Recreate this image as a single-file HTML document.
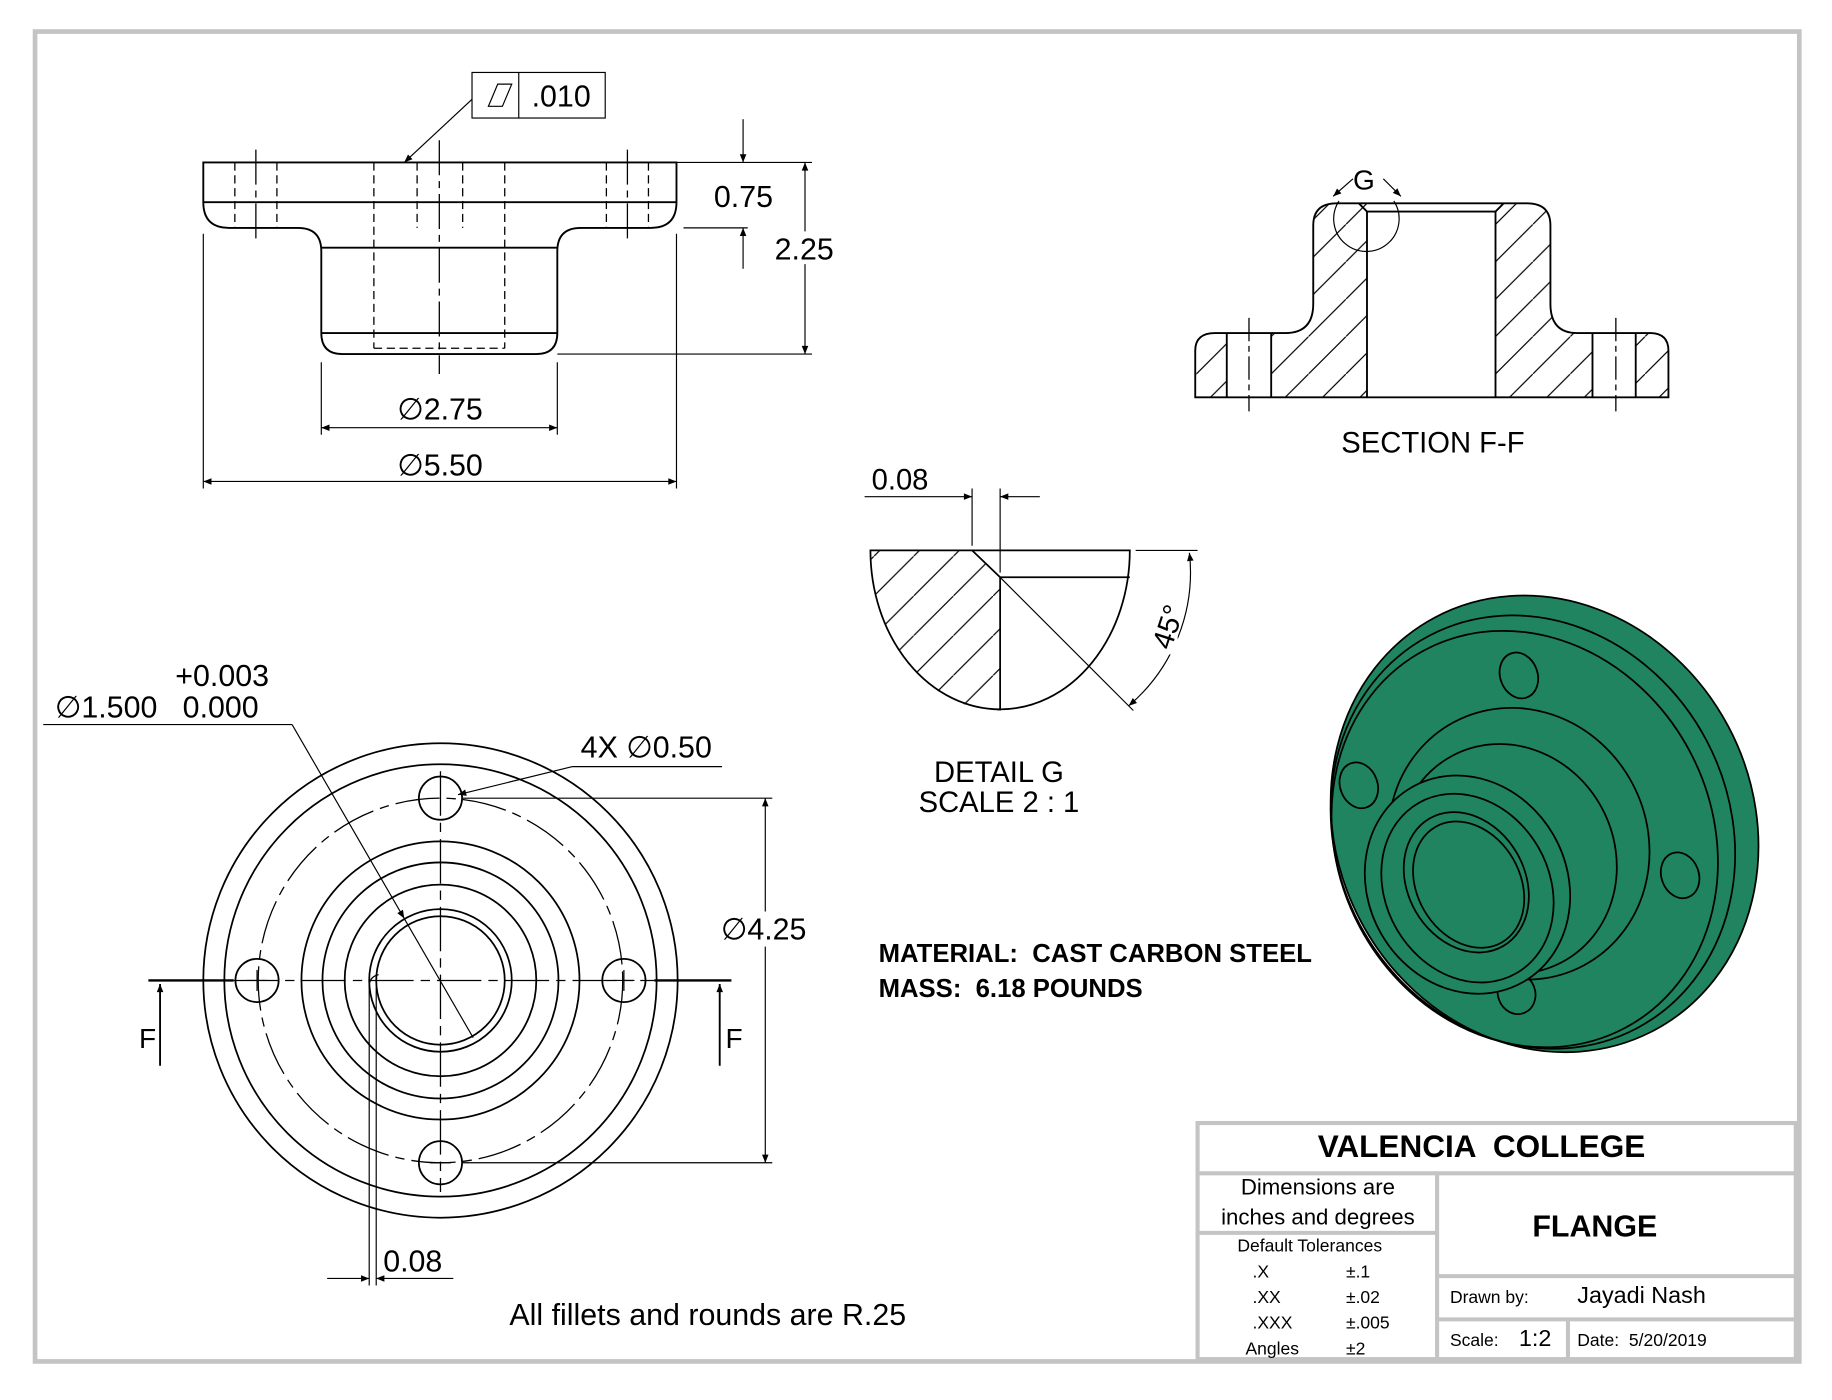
<!DOCTYPE html>
<html><head><meta charset="utf-8"><style>
html,body{margin:0;padding:0;background:#fff;}
svg{display:block;}
text{font-family:"Liberation Sans",sans-serif;fill:#000;white-space:pre;}
</style></head><body>
<svg width="1832" height="1400" viewBox="0 0 1568 1198" preserveAspectRatio="none" xmlns="http://www.w3.org/2000/svg" xml:space="preserve">
<defs>
<pattern id="h" patternUnits="userSpaceOnUse" width="32" height="32">
<line x1="-2" y1="34" x2="34" y2="-2" stroke="#000" stroke-width="1"/>
</pattern>
<pattern id="h2" patternUnits="userSpaceOnUse" width="34" height="34">
<line x1="-2" y1="36" x2="36" y2="-2" stroke="#000" stroke-width="1"/>
</pattern>
<marker id="a" viewBox="0 0 10 10" refX="10" refY="5" markerWidth="18" markerHeight="7" markerUnits="userSpaceOnUse" orient="auto-start-reverse"><path d="M0,1 L10,5 L0,9z" fill="#000"/></marker>
</defs>
<rect x="0" y="0" width="1568" height="1198" fill="#fff"/>
<rect x="30" y="27" width="1510" height="1138" fill="none" stroke="#c4c4c4" stroke-width="4"/>

<!-- TOP VIEW -->
<g fill="none" stroke="#000" stroke-width="1.6">
<path d="M174,139 H579 V173 Q579,195 557,195 H497 Q477,195 477,215 V285 Q477,303 459,303 H293 Q275,303 275,285 V215 Q275,195 255,195 H196 Q174,195 174,173 Z"/>
<line x1="174" y1="173" x2="579" y2="173"/>
<line x1="275" y1="212" x2="477" y2="212"/>
<line x1="275" y1="285" x2="477" y2="285"/>
</g>
<g stroke="#000" stroke-width="1.1" stroke-dasharray="7,4" fill="none">
<line x1="201" y1="139" x2="201" y2="195"/><line x1="237" y1="139" x2="237" y2="195"/>
<line x1="519" y1="139" x2="519" y2="195"/><line x1="555" y1="139" x2="555" y2="195"/>
<line x1="357" y1="139" x2="357" y2="195"/><line x1="396" y1="139" x2="396" y2="195"/>
<line x1="320" y1="139" x2="320" y2="298"/><line x1="432" y1="139" x2="432" y2="298"/>
<line x1="320" y1="298" x2="432" y2="298"/>
</g>
<g stroke="#000" stroke-width="1.1" stroke-dasharray="30,5,6,5">
<line x1="219" y1="128" x2="219" y2="208"/><line x1="537" y1="128" x2="537" y2="208"/>
<line x1="376" y1="120" x2="376" y2="320"/>
</g>
<g stroke="#000" stroke-width="1" fill="none">
<line x1="579" y1="139" x2="695" y2="139"/>
<line x1="585" y1="195" x2="640" y2="195"/>
<line x1="477" y1="303" x2="695" y2="303"/>
<line x1="636" y1="102" x2="636" y2="139" marker-end="url(#a)"/>
<line x1="636" y1="230" x2="636" y2="195" marker-end="url(#a)"/>
<line x1="689" y1="139" x2="689" y2="303" marker-start="url(#a)" marker-end="url(#a)"/>
<line x1="275" y1="310" x2="275" y2="372"/><line x1="477" y1="310" x2="477" y2="372"/>
<line x1="275" y1="366" x2="477" y2="366" marker-start="url(#a)" marker-end="url(#a)"/>
<line x1="174" y1="200" x2="174" y2="418"/><line x1="579" y1="200" x2="579" y2="418"/>
<line x1="174" y1="412" x2="579" y2="412" marker-start="url(#a)" marker-end="url(#a)"/>
<rect x="404" y="62" width="114" height="39"/><line x1="444" y1="62" x2="444" y2="101"/>
<path d="M418,91 L426,72 H438 L430,91 Z"/>
<line x1="404" y1="85" x2="346" y2="139" marker-end="url(#a)"/>
</g>
<rect x="662" y="198" width="54" height="28" fill="#fff"/>
<g font-size="26">
<text x="611" y="177">0.75</text>
<text x="663" y="222">2.25</text>
<text x="340" y="359">∅2.75</text>
<text x="340" y="407">∅5.50</text>
<text x="455" y="91">.010</text>
</g>

<!-- SECTION F-F -->
<path d="M1023,340 V300 Q1023,285 1040,285 H1100 Q1124,285 1124,260 V193 Q1124,174 1144,174 H1170 V340 Z M1050,285 V340 H1088 V285 Z" fill="url(#h)" fill-rule="evenodd"/>
<path d="M1280,174 H1307 Q1327,174 1327,193 V260 Q1327,285 1350,285 H1412 Q1428,285 1428,300 V340 H1280 Z M1363,285 V340 H1400 V285 Z" fill="url(#h)" fill-rule="evenodd"/>
<g fill="none" stroke="#000" stroke-width="1.6">
<path d="M1023,340 V300 Q1023,285 1040,285 H1100 Q1124,285 1124,260 V193 Q1124,174 1144,174 H1307 Q1327,174 1327,193 V260 Q1327,285 1350,285 H1412 Q1428,285 1428,300 V340 Z"/>
<line x1="1170" y1="181" x2="1170" y2="340"/><line x1="1280" y1="181" x2="1280" y2="340"/>
<path d="M1163,174 L1170,181 H1280 L1287,174"/>
<line x1="1050" y1="285" x2="1050" y2="340"/><line x1="1088" y1="285" x2="1088" y2="340"/>
<line x1="1363" y1="285" x2="1363" y2="340"/><line x1="1400" y1="285" x2="1400" y2="340"/>
</g>
<rect x="1051" y="286" width="36" height="53" fill="#fff"/>
<rect x="1364" y="286" width="35" height="53" fill="#fff"/>
<rect x="1171" y="182" width="108" height="157" fill="#fff"/>
<g stroke="#000" stroke-width="1.1" stroke-dasharray="20,4,5,4">
<line x1="1069" y1="272" x2="1069" y2="352"/><line x1="1383" y1="272" x2="1383" y2="352"/>
</g>
<g fill="none" stroke="#000" stroke-width="1">
<path d="M1146,172 A28,28 0 1 0 1193,172"/>
<line x1="1158" y1="153" x2="1141" y2="168" marker-end="url(#a)"/>
<line x1="1184" y1="153" x2="1199" y2="168" marker-end="url(#a)"/>
</g>
<text x="1158" y="162" font-size="24">G</text>
<text x="1148" y="387" font-size="25">SECTION F-F</text>

<!-- DETAIL G -->
<path d="M745,471 H832 L856,494 V608 A111,136 0 0 1 745,471 Z" fill="url(#h2)"/>
<g fill="none" stroke="#000" stroke-width="1.5">
<path d="M745,471 H967 A111,136 0 0 1 745,471 Z"/>
<path d="M832,471 L856,494 V608"/>
<line x1="856" y1="494" x2="967" y2="494"/>
</g>
<g fill="none" stroke="#000" stroke-width="1">
<line x1="856" y1="494" x2="970" y2="608"/>
<line x1="832" y1="418" x2="832" y2="467"/><line x1="856" y1="418" x2="856" y2="490"/>
<line x1="740" y1="425" x2="832" y2="425" marker-end="url(#a)"/>
<line x1="890" y1="425" x2="856" y2="425" marker-end="url(#a)"/>
<line x1="972" y1="471" x2="1025" y2="471"/>
<path d="M1018,473 A150,150 0 0 1 966,604" marker-start="url(#a)" marker-end="url(#a)"/>
</g>
<text x="746" y="419" font-size="25">0.08</text>
<rect x="978" y="512" width="30" height="48" fill="#fff"/>
<text x="0" y="0" font-size="25" transform="translate(1002,557) rotate(-72)">45°</text>
<text x="855" y="669" font-size="25" text-anchor="middle">DETAIL G</text>
<text x="855" y="695" font-size="25" text-anchor="middle">SCALE 2 : 1</text>

<!-- FRONT VIEW -->
<g fill="none" stroke="#000" stroke-width="1.5">
<circle cx="377" cy="839" r="203"/><circle cx="377" cy="839" r="185"/>
<circle cx="377" cy="839" r="119"/><circle cx="377" cy="839" r="101"/>
<circle cx="377" cy="839" r="82"/><circle cx="377" cy="839" r="61"/>
<circle cx="377" cy="839" r="55"/>
<circle cx="377" cy="683" r="18.5"/><circle cx="220" cy="839" r="18.5"/>
<circle cx="534" cy="839" r="18.5"/><circle cx="377" cy="995" r="18.5"/>
</g>
<g fill="none" stroke="#000" stroke-width="1.1" stroke-dasharray="38,6,8,6">
<circle cx="377" cy="839" r="156"/>
<line x1="377" y1="660" x2="377" y2="1020"/>
<line x1="200" y1="839" x2="560" y2="839"/>
</g>
<g stroke="#000" stroke-width="1">
<line x1="211" y1="839" x2="229" y2="839"/><line x1="220" y1="830" x2="220" y2="848"/>
<line x1="525" y1="839" x2="543" y2="839"/><line x1="534" y1="830" x2="534" y2="848"/>
<line x1="368" y1="995" x2="386" y2="995"/>
</g>
<g stroke="#000" stroke-width="2">
<line x1="127" y1="839" x2="200" y2="839"/><line x1="560" y1="839" x2="626" y2="839"/>
</g>
<g stroke="#000" stroke-width="1.6" fill="none">
<line x1="137" y1="912" x2="137" y2="842" marker-end="url(#a)"/>
<line x1="616" y1="912" x2="616" y2="842" marker-end="url(#a)"/>
</g>
<text x="119" y="897" font-size="24">F</text>
<text x="621" y="897" font-size="24">F</text>
<g stroke="#000" stroke-width="1" fill="none">
<line x1="395" y1="683" x2="661" y2="683"/><line x1="395" y1="995" x2="661" y2="995"/>
<line x1="655" y1="683" x2="655" y2="995" marker-start="url(#a)" marker-end="url(#a)"/>
<line x1="490" y1="656" x2="618" y2="656"/>
<line x1="490" y1="656" x2="392" y2="680" marker-end="url(#a)"/>
<line x1="37" y1="620" x2="250" y2="620"/>
<line x1="250" y1="620" x2="346" y2="786" marker-end="url(#a)"/>
<line x1="346" y1="786" x2="405" y2="888"/>
<path d="M316,839 V1100 M322,845 V1100"/>
<path d="M316,844 Q316,836 324,834" />
<line x1="280" y1="1094" x2="316" y2="1094" marker-end="url(#a)"/>
<line x1="388" y1="1094" x2="322" y2="1094" marker-end="url(#a)"/>
</g>
<rect x="616" y="780" width="80" height="30" fill="#fff"/>
<g font-size="26">
<text x="617" y="804">∅4.25</text>
<text x="497" y="648">4X ∅0.50</text>
<text x="150" y="587">+0.003</text>
<text x="47" y="614">∅1.500   0.000</text>
<text x="328" y="1088">0.08</text>
<text x="436" y="1134">All fillets and rounds are R.25</text>
</g>
<g font-size="22" font-weight="bold">
<text x="752" y="823">MATERIAL:  CAST CARBON STEEL</text>
<text x="752" y="853">MASS:  6.18 POUNDS</text>
</g>

<!-- 3D VIEW -->
<g stroke="#000" stroke-width="1.5" fill="#208460">
<ellipse cx="1322" cy="705" rx="178" ry="200" transform="rotate(-28 1322 705)"/>
<ellipse cx="1312" cy="712" rx="168" ry="190" transform="rotate(-28 1312 712)" fill="none"/>
<ellipse cx="1305" cy="718" rx="160" ry="183" transform="rotate(-28 1305 718)" fill="none"/>
<ellipse cx="1300" cy="578" rx="16" ry="20" transform="rotate(-20 1300 578)"/>
<ellipse cx="1163" cy="672" rx="16" ry="20" transform="rotate(-20 1163 672)"/>
<ellipse cx="1438" cy="749" rx="16" ry="20" transform="rotate(-20 1438 749)"/>
<ellipse cx="1298" cy="850" rx="16" ry="18" transform="rotate(-20 1298 850)"/>
<ellipse cx="1300" cy="722" rx="110" ry="118" transform="rotate(-28 1300 722)"/>
<ellipse cx="1290" cy="735" rx="92" ry="100" transform="rotate(-28 1290 735)"/>
<ellipse cx="1256" cy="757" rx="85" ry="96" transform="rotate(-30 1256 757)"/>
<ellipse cx="1256" cy="760" rx="70" ry="84" transform="rotate(-30 1256 760)"/>
<ellipse cx="1255" cy="755" rx="50" ry="63" transform="rotate(-30 1255 755)"/>
<ellipse cx="1257" cy="757" rx="44" ry="57" transform="rotate(-30 1257 757)"/>
</g>

<!-- TITLE BLOCK -->
<g fill="none" stroke="#c4c4c4" stroke-width="3.5">
<rect x="1025" y="961" width="512" height="202"/>
<line x1="1025" y1="1004" x2="1537" y2="1004"/>
<line x1="1230" y1="1004" x2="1230" y2="1163"/>
<line x1="1025" y1="1055" x2="1230" y2="1055"/>
<line x1="1230" y1="1092" x2="1537" y2="1092"/>
<line x1="1230" y1="1129" x2="1537" y2="1129"/>
<line x1="1342" y1="1129" x2="1342" y2="1163"/>
</g>
<text x="1268" y="990" font-size="27" font-weight="bold" text-anchor="middle">VALENCIA  COLLEGE</text>
<text x="1128" y="1022" font-size="19" text-anchor="middle">Dimensions are</text>
<text x="1128" y="1048" font-size="19" text-anchor="middle">inches and degrees</text>
<text x="1121" y="1071" font-size="15" text-anchor="middle">Default Tolerances</text>
<g font-size="15">
<text x="1072" y="1093">.X</text><text x="1152" y="1093">±.1</text>
<text x="1072" y="1115">.XX</text><text x="1152" y="1115">±.02</text>
<text x="1072" y="1137">.XXX</text><text x="1152" y="1137">±.005</text>
<text x="1066" y="1159">Angles</text><text x="1152" y="1159">±2</text>
</g>
<text x="1365" y="1058" font-size="26" font-weight="bold" text-anchor="middle">FLANGE</text>
<text x="1241" y="1115" font-size="15">Drawn by:</text>
<text x="1350" y="1115" font-size="20">Jayadi Nash</text>
<text x="1241" y="1152" font-size="15">Scale:</text>
<text x="1300" y="1152" font-size="20">1:2</text>
<text x="1350" y="1152" font-size="15">Date:  5/20/2019</text>
</svg>
</body></html>
